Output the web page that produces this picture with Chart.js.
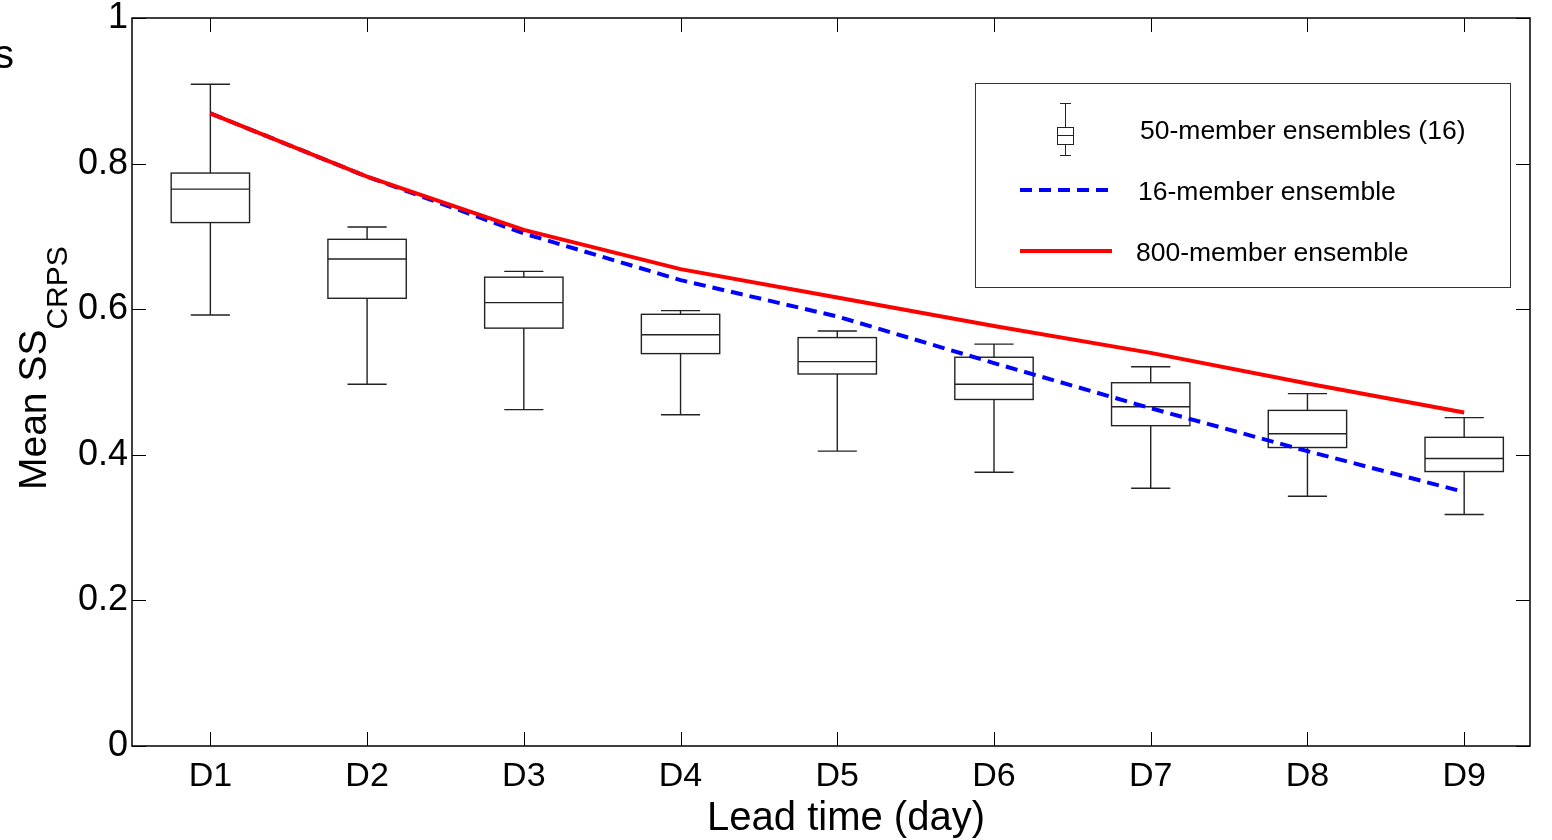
<!DOCTYPE html>
<html>
<head>
<meta charset="utf-8">
<script src="https://cdn.jsdelivr.net/npm/chart.js@4"></script>
<style>
  html, body { margin: 0; padding: 0; background: #fff; }
  #wrap { width: 1552px; height: 840px; position: relative; }
</style>
</head>
<body>
<div id="wrap"><canvas id="chart"></canvas></div>
<script>
const categories = ['D1', 'D2', 'D3', 'D4', 'D5', 'D6', 'D7', 'D8', 'D9'];
const yTicks = [0, 0.2, 0.4, 0.6, 0.8, 1];

// 50-member ensembles (16) box stats
const whiskerHigh = [0.909, 0.713, 0.652, 0.598, 0.570, 0.552, 0.521, 0.484, 0.451];
const q3 = [0.787, 0.696, 0.644, 0.593, 0.561, 0.534, 0.499, 0.461, 0.424];
const median = [0.765, 0.669, 0.609, 0.565, 0.528, 0.497, 0.466, 0.429, 0.395];
const q1 = [0.719, 0.615, 0.574, 0.539, 0.511, 0.476, 0.440, 0.410, 0.377];
const whiskerLow = [0.592, 0.497, 0.462, 0.455, 0.405, 0.376, 0.354, 0.343, 0.318];

const ens16 = [0.869, 0.782, 0.704, 0.640, 0.590, 0.526, 0.464, 0.405, 0.349];
const ens800 = [0.869, 0.782, 0.709, 0.655, 0.616, 0.577, 0.540, 0.498, 0.458];

const FONT = '"Liberation Sans", Arial, sans-serif';

function toPoints(arr) {
    return arr.map((v, i) => ({ x: i + 1, y: v }));
}

// boxes under the lines
const boxPlugin = {
    id: 'boxes',
    beforeDatasetsDraw(chart) {
        const { ctx, scales: { x, y } } = chart;
        ctx.save();
        ctx.strokeStyle = '#222';
        ctx.lineWidth = 1.4;
        categories.forEach((c, i) => {
            const cx = x.getPixelForValue(i + 1);
            const half = (x.getPixelForValue(1.25) - x.getPixelForValue(1));
            const cap = half / 2;
            const yHi = y.getPixelForValue(whiskerHigh[i]);
            const yQ3 = y.getPixelForValue(q3[i]);
            const yMed = y.getPixelForValue(median[i]);
            const yQ1 = y.getPixelForValue(q1[i]);
            const yLo = y.getPixelForValue(whiskerLow[i]);
            ctx.beginPath();
            ctx.moveTo(cx, yHi); ctx.lineTo(cx, yQ3);
            ctx.moveTo(cx, yQ1); ctx.lineTo(cx, yLo);
            ctx.moveTo(cx - cap, yHi); ctx.lineTo(cx + cap, yHi);
            ctx.moveTo(cx - cap, yLo); ctx.lineTo(cx + cap, yLo);
            ctx.moveTo(cx - half, yMed); ctx.lineTo(cx + half, yMed);
            ctx.stroke();
            ctx.strokeRect(cx - half, yQ3, half * 2, yQ1 - yQ3);
        });
        ctx.restore();
    }
};

// frame, inside ticks, axis titles and legend
const framePlugin = {
    id: 'frame',
    afterDraw(chart) {
        const { ctx, chartArea: a, scales: { x, y } } = chart;
        ctx.save();
        ctx.strokeStyle = '#000';
        ctx.lineWidth = 1.5;
        ctx.strokeRect(a.left, a.top, a.right - a.left, a.bottom - a.top);
        ctx.lineWidth = 1;
        ctx.beginPath();
        categories.forEach((c, i) => {
            const px = Math.round(x.getPixelForValue(i + 1)) + 0.5;
            ctx.moveTo(px, a.bottom); ctx.lineTo(px, a.bottom - 14);
            ctx.moveTo(px, a.top); ctx.lineTo(px, a.top + 14);
        });
        yTicks.forEach(v => {
            const py = Math.round(y.getPixelForValue(v)) + 0.5;
            ctx.moveTo(a.left, py); ctx.lineTo(a.left + 14, py);
            ctx.moveTo(a.right, py); ctx.lineTo(a.right - 14, py);
        });
        ctx.stroke();

        ctx.fillStyle = '#000';
        // x title
        ctx.font = '40px ' + FONT;
        ctx.textAlign = 'center';
        ctx.textBaseline = 'alphabetic';
        ctx.fillText('Lead time (day)', 846, 830);

        // y title with subscript
        ctx.translate(46, 490);
        ctx.rotate(-Math.PI / 2);
        ctx.font = '39px ' + FONT;
        ctx.textAlign = 'left';
        ctx.fillText('Mean SS', 0, 0);
        const w = ctx.measureText('Mean SS').width;
        ctx.font = '30px ' + FONT;
        ctx.fillText('CRPS', w, 21);
        ctx.setTransform(1, 0, 0, 1, 0, 0);

        // cut-off fragment at top left
        ctx.font = '40px ' + FONT;
        ctx.fillText('s', -6, 68);

        // legend
        ctx.strokeStyle = '#333';
        ctx.lineWidth = 1;
        ctx.strokeRect(975.5, 83.5, 535, 204);
        ctx.strokeStyle = '#222';
        ctx.beginPath();
        ctx.moveTo(1065.5, 103); ctx.lineTo(1065.5, 127);
        ctx.moveTo(1065.5, 144); ctx.lineTo(1065.5, 155);
        ctx.moveTo(1060, 103.5); ctx.lineTo(1071, 103.5);
        ctx.moveTo(1060, 155.5); ctx.lineTo(1071, 155.5);
        ctx.moveTo(1057, 135.5); ctx.lineTo(1074, 135.5);
        ctx.stroke();
        ctx.strokeRect(1057.5, 127.5, 16, 17);

        ctx.lineWidth = 4;
        ctx.strokeStyle = '#0000ff';
        ctx.setLineDash([12, 7]);
        ctx.beginPath(); ctx.moveTo(1020, 190); ctx.lineTo(1112, 190); ctx.stroke();
        ctx.setLineDash([]);
        ctx.strokeStyle = '#ff0000';
        ctx.beginPath(); ctx.moveTo(1020, 251); ctx.lineTo(1112, 251); ctx.stroke();

        ctx.font = '26.5px ' + FONT;
        ctx.fillStyle = '#000';
        ctx.fillText('50-member ensembles (16)', 1140, 139);
        ctx.fillText('16-member ensemble', 1138, 200);
        ctx.fillText('800-member ensemble', 1136, 261);
        ctx.restore();
    }
};

const ctx = document.getElementById('chart').getContext('2d');
new Chart(ctx, {
    type: 'line',
    data: {
        datasets: [
            {
                label: '800-member ensemble',
                data: toPoints(ens800),
                borderColor: '#ff0000',
                borderWidth: 4,
                pointRadius: 0,
                fill: false,
                tension: 0
            },
            {
                label: '16-member ensemble',
                data: toPoints(ens16),
                borderColor: '#0000ff',
                borderWidth: 4,
                borderDash: [12, 7],
                pointRadius: 0,
                fill: false,
                tension: 0
            }
        ]
    },
    options: {
        responsive: true,
        maintainAspectRatio: false,
        animation: false,
        layout: { padding: { top: 4, right: 22, left: 0, bottom: 0 } },
        plugins: { legend: { display: false }, tooltip: { enabled: false } },
        scales: {
            x: {
                type: 'linear',
                min: 0.5,
                max: 9.42,
                afterBuildTicks: s => { s.ticks = categories.map((c, i) => ({ value: i + 1 })); },
                afterFit: s => { s.height = 94; },
                grid: { display: false, drawTicks: false },
                border: { display: false },
                ticks: {
                    color: '#000',
                    font: { family: FONT, size: 34 },
                    padding: 10,
                    maxRotation: 0,
                    autoSkip: false,
                    callback: v => categories[v - 1]
                }
            },
            y: {
                min: 0,
                max: 1,
                afterBuildTicks: s => { s.ticks = yTicks.map(v => ({ value: v })); },
                afterFit: s => { s.width = 132; s.paddingTop = 18; },
                grid: { display: false, drawTicks: false },
                border: { display: false },
                ticks: {
                    color: '#000',
                    font: { family: FONT, size: 36 },
                    padding: 4,
                    callback: v => String(v)
                }
            }
        }
    },
    plugins: [boxPlugin, framePlugin]
});
</script>
</body>
</html>
